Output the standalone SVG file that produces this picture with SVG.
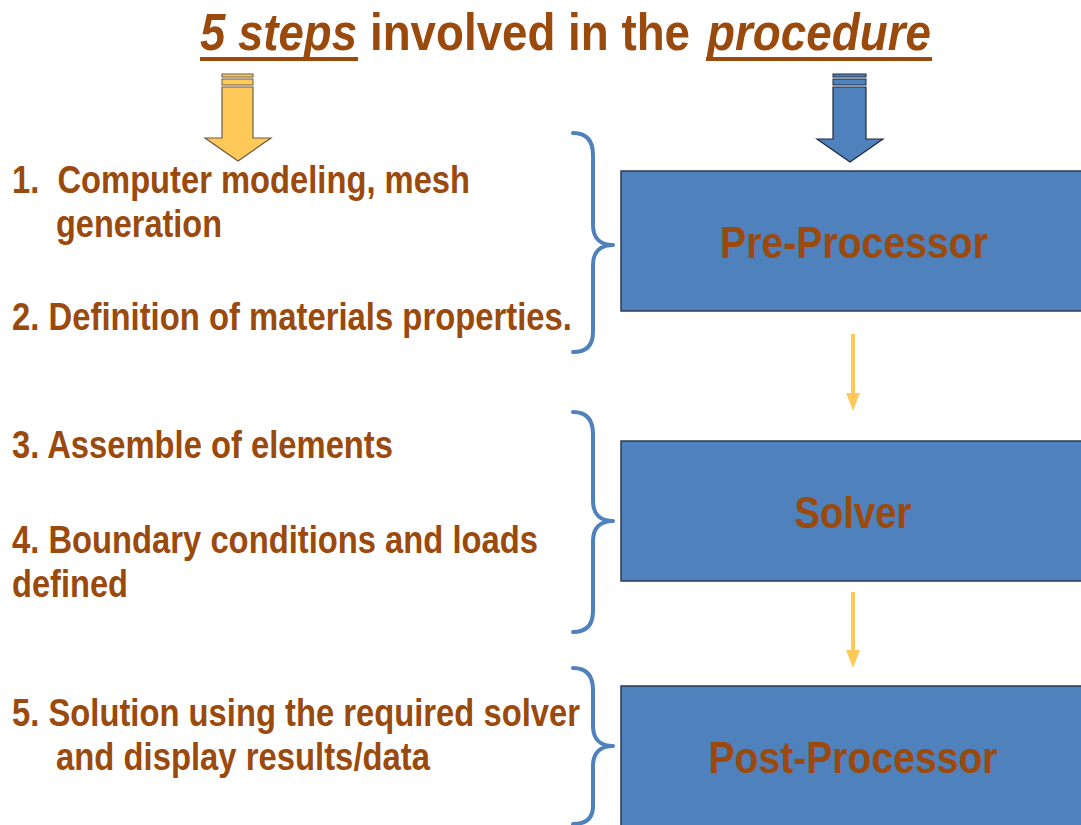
<svg xmlns="http://www.w3.org/2000/svg" width="1081" height="825" viewBox="0 0 1081 825">
<style>
  .t { font-family: "Liberation Sans Narrow", "Liberation Sans", Arial, sans-serif; font-weight: bold; fill: #9B4A0E; }
  .step { font-size: 39px; }
  .box { fill: #4F81BD; stroke: #2B3A50; stroke-width: 1.5; }
  .lbl { font-size: 45px; }
  .brace { fill: none; stroke: #4F81BD; stroke-width: 4; stroke-linecap: round; stroke-linejoin: round; }
  .yl { stroke: #FFC95A; stroke-width: 4; }
  .yh { fill: #FFC95A; }
</style>
<rect width="1081" height="825" fill="#FFFFFF"/>

<g id="title">
  <text class="t" x="200" y="50" font-size="52"><tspan font-style="italic" textLength="157" lengthAdjust="spacingAndGlyphs">5 steps</tspan><tspan x="370" textLength="320" lengthAdjust="spacingAndGlyphs">involved in the</tspan><tspan x="707" font-style="italic" textLength="224" lengthAdjust="spacingAndGlyphs">procedure</tspan></text>
  <rect x="200" y="57" width="158" height="4" fill="#9B4A0E"/>
  <rect x="706" y="57" width="226" height="4" fill="#9B4A0E"/>
</g>

<g id="arrow-yellow">
  <rect x="222" y="74" width="31" height="3" fill="#FFC95A" stroke="#6B5B45" stroke-width="1"/>
  <rect x="222" y="79" width="31" height="6" fill="#FFC95A" stroke="#6B5B45" stroke-width="1"/>
  <path d="M222,87 L253,87 L253,138 L271,138 L238,161 L205,138 L222,138 Z" fill="#FFC95A" stroke="#6B5B45" stroke-width="1.2"/>
</g>

<g id="arrow-blue">
  <rect x="833" y="74" width="33" height="3" fill="#4F81BD" stroke="#1F2B40" stroke-width="1"/>
  <rect x="833" y="79" width="33" height="6" fill="#4F81BD" stroke="#1F2B40" stroke-width="1"/>
  <path d="M833,87 L866,87 L866,139 L883,139 L850,162 L817,139 L833,139 Z" fill="#4F81BD" stroke="#1F2B40" stroke-width="1.2"/>
</g>

<g id="steps">
  <text class="t step" x="12" y="193" textLength="458" lengthAdjust="spacingAndGlyphs">1.&#160; Computer modeling, mesh</text>
  <text class="t step" x="56" y="237" textLength="166" lengthAdjust="spacingAndGlyphs">generation</text>
  <text class="t step" x="12" y="330" textLength="560" lengthAdjust="spacingAndGlyphs">2. Definition of materials properties.</text>
  <text class="t step" x="12" y="458" textLength="381" lengthAdjust="spacingAndGlyphs">3. Assemble of elements</text>
  <text class="t step" x="12" y="553" textLength="526" lengthAdjust="spacingAndGlyphs">4. Boundary conditions and loads</text>
  <text class="t step" x="12" y="597" textLength="116" lengthAdjust="spacingAndGlyphs">defined</text>
  <text class="t step" x="12" y="726" textLength="568" lengthAdjust="spacingAndGlyphs">5. Solution using the required solver</text>
  <text class="t step" x="56" y="770" textLength="374" lengthAdjust="spacingAndGlyphs">and display results/data</text>
</g>

<g id="braces">
  <path class="brace" d="M573,133 C586,133 593,140 593,155 L593,225 C593,238 600,245 613,245 C600,245 593,252 593,265 L593,332 C593,346 586,352 573,352"/>
  <path class="brace" d="M573,412 C586,412 593,419 593,434 L593,501 C593,514 600,521 613,521 C600,521 593,528 593,541 L593,611 C593,625 586,632 573,632"/>
  <path class="brace" d="M573,668 C586,668 593,675 593,690 L593,726 C593,739 600,746 613,746 C600,746 593,753 593,766 L593,806 C593,818 586,824 573,824"/>
</g>

<g id="pre-processor">
  <rect class="box" x="621" y="171" width="470" height="140"/>
  <text class="t lbl" x="854" y="258" text-anchor="middle" textLength="268" lengthAdjust="spacingAndGlyphs">Pre-Processor</text>
</g>
<g id="solver">
  <rect class="box" x="621" y="441" width="470" height="140"/>
  <text class="t lbl" x="853" y="528" text-anchor="middle" textLength="117" lengthAdjust="spacingAndGlyphs">Solver</text>
</g>
<g id="post-processor">
  <rect class="box" x="621" y="686" width="470" height="150"/>
  <text class="t lbl" x="853" y="773" text-anchor="middle" textLength="289" lengthAdjust="spacingAndGlyphs">Post-Processor</text>
</g>

<g id="connectors">
  <line class="yl" x1="853" y1="334" x2="853" y2="395"/>
  <path class="yh" d="M846,393 L860,393 L853,411 Z"/>
  <line class="yl" x1="853" y1="592" x2="853" y2="652"/>
  <path class="yh" d="M846,650 L860,650 L853,668 Z"/>
</g>
</svg>
